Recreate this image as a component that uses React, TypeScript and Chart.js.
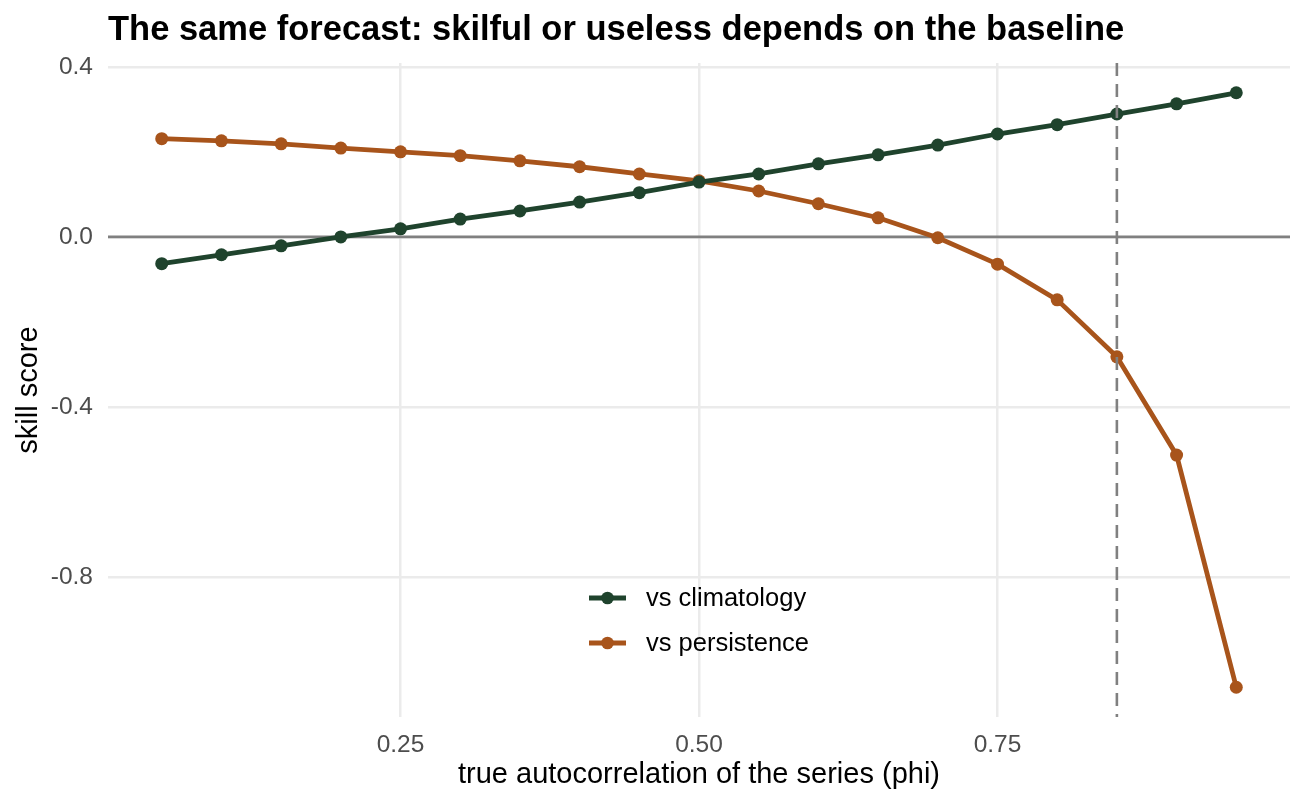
import { useEffect, useRef } from "react";
import { Chart, registerables } from "chart.js";

Chart.register(...registerables);

// Lag-1 autocorrelation of the simulated series
const phi = [0.05, 0.1, 0.15, 0.2, 0.25, 0.3, 0.35, 0.4, 0.45, 0.5, 0.55, 0.6, 0.65, 0.7, 0.75, 0.8, 0.85, 0.9, 0.95];

// Skill score of the same forecast against two reference baselines
const vsClimatology = [-0.063, -0.042, -0.021, 0.0, 0.019, 0.042, 0.061, 0.082, 0.104, 0.129, 0.148, 0.172, 0.193, 0.216, 0.242, 0.264, 0.289, 0.313, 0.339];
const vsPersistence = [0.231, 0.226, 0.219, 0.209, 0.2, 0.191, 0.179, 0.165, 0.148, 0.132, 0.108, 0.078, 0.045, -0.002, -0.064, -0.148, -0.282, -0.513, -1.059];

const seriesLabels = ["vs climatology", "vs persistence"];
const seriesColors = ["#1f432d", "#a8541b"];

const xTicks = [0.25, 0.5, 0.75];
const yTicks = [-0.8, -0.4, 0.0, 0.4];
const xRange = [0.005, 0.995];
const yRange = [-1.129, 0.409];
const highlightPhi = 0.85;

const FONT = "'Liberation Sans', Arial, Helvetica, sans-serif";

// Solid zero line under the series, dashed marker line on top of them
const referenceLines = {
  id: "referenceLines",
  beforeDatasetsDraw(chart: any) {
    const { ctx, chartArea, scales } = chart;
    const y0 = scales.y.getPixelForValue(0);
    ctx.save();
    ctx.strokeStyle = "#808080";
    ctx.lineWidth = 2.6;
    ctx.beginPath();
    ctx.moveTo(chartArea.left, y0);
    ctx.lineTo(chartArea.right, y0);
    ctx.stroke();
    ctx.restore();
  },
  afterDatasetsDraw(chart: any) {
    const { ctx, chartArea, scales } = chart;
    const x = scales.x.getPixelForValue(highlightPhi);
    ctx.save();
    ctx.strokeStyle = "#808080";
    ctx.lineWidth = 2.6;
    ctx.setLineDash([13, 8]);
    ctx.beginPath();
    ctx.moveTo(x, chartArea.top);
    ctx.lineTo(x, chartArea.bottom);
    ctx.stroke();
    ctx.restore();
  },
};

// Legend placed inside the panel, centred near the bottom
const panelLegend = {
  id: "panelLegend",
  afterDraw(chart: any) {
    const { ctx, chartArea } = chart;
    const datasets = chart.data.datasets;
    ctx.save();
    ctx.font = `25.5px ${FONT}`;
    const keyWidth = 37;
    const gap = 20;
    const textWidth = Math.max(...datasets.map((d: any) => ctx.measureText(d.label).width));
    const total = keyWidth + gap + textWidth;
    const left = (chartArea.left + chartArea.right) / 2 - total / 2;
    const rowYs = [chartArea.bottom - 119, chartArea.bottom - 74];
    datasets.forEach((d: any, i: number) => {
      const y = rowYs[i];
      ctx.strokeStyle = d.borderColor;
      ctx.lineWidth = 4.8;
      ctx.beginPath();
      ctx.moveTo(left, y);
      ctx.lineTo(left + keyWidth, y);
      ctx.stroke();
      ctx.fillStyle = d.pointBackgroundColor;
      ctx.beginPath();
      ctx.arc(left + keyWidth / 2, y, 6.3, 0, Math.PI * 2);
      ctx.fill();
      ctx.fillStyle = "#000000";
      ctx.textAlign = "left";
      ctx.textBaseline = "middle";
      ctx.fillText(d.label, left + keyWidth + gap, y + 1);
    });
    ctx.restore();
  },
};

export default function App() {
  const canvasRef = useRef<HTMLCanvasElement | null>(null);

  useEffect(() => {
    const canvas = canvasRef.current;
    if (!canvas) return;
    const series = [vsClimatology, vsPersistence];
    const chart = new Chart(canvas, {
      type: "line",
      data: {
        datasets: series.map((vals, i) => ({
          label: seriesLabels[i],
          data: phi.map((p, j) => ({ x: p, y: vals[j] })),
          borderColor: seriesColors[i],
          backgroundColor: seriesColors[i],
          pointBackgroundColor: seriesColors[i],
          pointBorderWidth: 0,
          pointRadius: 6.5,
          borderWidth: 4.8,
          tension: 0,
          fill: false,
        })),
      },
      options: {
        animation: false,
        responsive: false,
        layout: { padding: { top: 0, right: 15, bottom: 0, left: 0 } },
        plugins: {
          legend: { display: false },
          tooltip: { enabled: false },
          title: {
            display: true,
            text: "The same forecast: skilful or useless depends on the baseline",
            align: "start",
            fullSize: false,
            color: "#000000",
            font: { family: FONT, size: 34.5, weight: "bold" },
            padding: { top: 9.8, bottom: 11.8 },
          },
        },
        scales: {
          x: {
            type: "linear",
            min: xRange[0],
            max: xRange[1],
            afterBuildTicks: (scale: any) => {
              scale.ticks = xTicks.map((v) => ({ value: v }));
            },
            afterFit: (scale: any) => {
              scale.height = 89;
            },
            ticks: {
              autoSkip: false,
              maxRotation: 0,
              padding: 14,
              color: "#4d4d4d",
              font: { family: FONT, size: 24.5 },
              callback: (v: any) => Number(v).toFixed(2),
            },
            grid: { color: "#ebebeb", lineWidth: 2.5, drawTicks: false },
            border: { display: false },
            title: {
              display: true,
              text: "true autocorrelation of the series (phi)",
              color: "#000000",
              font: { family: FONT, size: 29 },
              padding: { top: 0, bottom: 13.6 },
            },
          },
          y: {
            type: "linear",
            min: yRange[0],
            max: yRange[1],
            afterBuildTicks: (scale: any) => {
              scale.ticks = yTicks.map((v) => ({ value: v }));
            },
            afterFit: (scale: any) => {
              scale.width = 108;
            },
            ticks: {
              autoSkip: false,
              padding: 15,
              color: "#4d4d4d",
              font: { family: FONT, size: 24.5 },
              callback: (v: any) => Number(v).toFixed(1),
            },
            grid: { color: "#ebebeb", lineWidth: 2.5, drawTicks: false },
            border: { display: false },
            title: {
              display: true,
              text: "skill score",
              color: "#000000",
              font: { family: FONT, size: 29 },
              padding: { top: 11.6, bottom: 0 },
            },
          },
        },
      },
      plugins: [referenceLines, panelLegend],
    } as any);
    return () => chart.destroy();
  }, []);

  return (
    <div style={{ position: "fixed", left: 0, top: 0, width: 1305, height: 806, background: "#ffffff" }}>
      <canvas ref={canvasRef} width={1305} height={806} />
    </div>
  );
}
